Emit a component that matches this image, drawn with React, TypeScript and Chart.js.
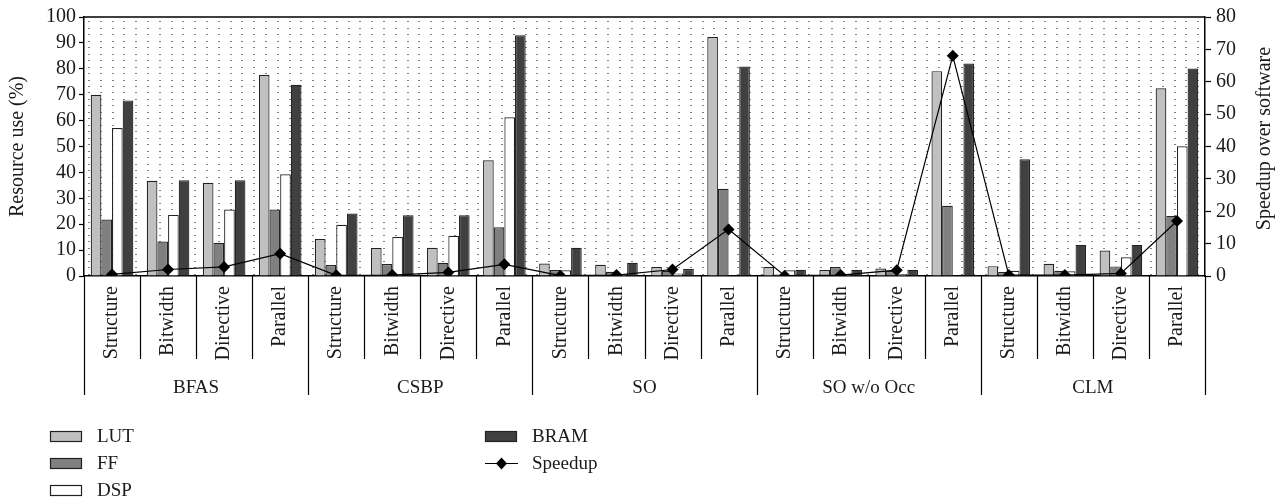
import React, { useEffect, useRef } from "react";
import { Chart, registerables } from "chart.js";

Chart.register(...registerables);

const groups = ["BFAS", "CSBP", "SO", "SO w/o Occ", "CLM"];
const steps = ["Structure", "Bitwidth", "Directive", "Parallel"];
const categories = groups.flatMap(() => steps);

const lut = [70, 36.8, 36, 77.6, 14.3, 10.8, 10.9, 44.7, 4.8, 4.3, 3.5, 92.3, 3.5, 2.3, 2.9, 79.1, 3.8, 4.7, 9.8, 72.5];
const ff = [21.8, 13.3, 12.8, 25.7, 4.2, 4.6, 5.1, 18.8, 2.3, 1.6, 2.0, 33.7, 0.6, 3.5, 2.0, 27.1, 1.5, 2.0, 3.7, 23.2];
const dsp = [57.1, 23.6, 25.7, 39.3, 19.8, 15.1, 15.5, 61.3, 2.2, 0.7, 1.0, null, 2.2, 0.8, 0.8, null, 2.0, 1.8, 7.2, 50.1];
const bram = [67.8, 37, 37, 73.8, 24.1, 23.5, 23.5, 93, 10.9, 5.1, 2.7, 80.9, 2.4, 2.4, 2.4, 82, 45.1, 12, 12, 80.1];
const speedup = [0.5, 2, 2.8, 6.9, 0.2, 0.3, 1.1, 3.6, 0.1, 0.3, 2.0, 14.4, 0.1, 0.3, 1.8, 68, 0.3, 0.3, 0.8, 17];

const rightTitle = "Speedup over software";

const FONT = "'Liberation Serif', 'Times New Roman', serif";
const TEXT = "#1a1a1a";

const decorPlugin = {
  id: "decor",
  beforeDatasetsDraw(chart: any) {
    const { ctx, chartArea: a } = chart;
    ctx.save();
    ctx.fillStyle = "#808080";
    const rowStep = (a.bottom - a.top) / 40;
    for (let x = a.left + 4; x < a.right - 2; x += 11.8) {
      for (let y = a.top + rowStep / 2 + 1; y < a.bottom - 1; y += rowStep) {
        ctx.fillRect(Math.round(x), Math.round(y), 2, 1);
      }
    }
    ctx.restore();
  },
  afterDraw(chart: any) {
    const { ctx, chartArea: a } = chart;
    const xs = chart.scales.x;
    ctx.save();
    // top frame line
    ctx.strokeStyle = "#000";
    ctx.lineWidth = 1.5;
    ctx.beginPath();
    ctx.moveTo(a.left, a.top);
    ctx.lineTo(a.right, a.top);
    ctx.stroke();
    // separators
    const n = categories.length;
    const half = (xs.getPixelForValue(1) - xs.getPixelForValue(0)) / 2;
    ctx.lineWidth = 1.2;
    for (let i = 0; i <= n; i++) {
      const px = i < n ? xs.getPixelForValue(i) - half : xs.getPixelForValue(n - 1) + half;
      const isGroup = i % steps.length === 0;
      ctx.beginPath();
      ctx.moveTo(Math.round(px) + 0.5, a.bottom);
      ctx.lineTo(Math.round(px) + 0.5, a.bottom + (isGroup ? 119 : 83));
      ctx.stroke();
    }
    // group labels
    ctx.fillStyle = TEXT;
    ctx.font = `19px ${FONT}`;
    ctx.textAlign = "center";
    ctx.textBaseline = "middle";
    groups.forEach((g, gi) => {
      const p0 = xs.getPixelForValue(gi * steps.length) - half;
      const p1 = xs.getPixelForValue(gi * steps.length + steps.length - 1) + half;
      ctx.fillText(g, (p0 + p1) / 2, a.bottom + 112);
    });
    // right axis title (reads bottom-to-top as in the reference)
    ctx.save();
    ctx.translate(1265, (a.top + a.bottom) / 2 - 8);
    ctx.rotate(-Math.PI / 2);
    ctx.font = `20px ${FONT}`;
    ctx.fillText(rightTitle, 0, 0);
    ctx.restore();
    // legend
    const ds = chart.data.datasets;
    const items = [
      { i: 0, x: 50, y: 436 },
      { i: 1, x: 50, y: 463 },
      { i: 2, x: 50, y: 490 },
      { i: 3, x: 485, y: 436 },
      { i: 4, x: 485, y: 463 },
    ];
    ctx.textAlign = "left";
    items.forEach(({ i, x, y }) => {
      const d = ds[i];
      if (d.type === "line") {
        ctx.strokeStyle = "#000";
        ctx.lineWidth = 1.2;
        ctx.beginPath();
        ctx.moveTo(x, y + 0.5);
        ctx.lineTo(x + 33, y + 0.5);
        ctx.stroke();
        ctx.fillStyle = "#000";
        ctx.beginPath();
        ctx.moveTo(x + 16.5, y - 5.5);
        ctx.lineTo(x + 22, y + 0.5);
        ctx.lineTo(x + 16.5, y + 6.5);
        ctx.lineTo(x + 11, y + 0.5);
        ctx.closePath();
        ctx.fill();
      } else {
        ctx.fillStyle = d.backgroundColor;
        ctx.fillRect(x, y - 5, 32, 11);
        ctx.strokeStyle = "#222";
        ctx.lineWidth = 1.2;
        ctx.strokeRect(x + 0.5, y - 4.5, 31, 10);
      }
      ctx.fillStyle = TEXT;
      ctx.font = `19px ${FONT}`;
      ctx.fillText(d.label, x + 47, y + 1);
    });
    ctx.restore();
  },
};

export default function App() {
  const ref = useRef<HTMLCanvasElement | null>(null);
  useEffect(() => {
    document.body.style.margin = "0";
    const barBase = { type: "bar" as const, borderColor: "#222", borderWidth: 1.2, yAxisID: "y", order: 1, barPercentage: 1, categoryPercentage: 0.76 };
    const chart = new Chart(ref.current as HTMLCanvasElement, {
      type: "bar",
      data: {
        labels: categories,
        datasets: [
          { ...barBase, label: "LUT", data: lut, backgroundColor: "#c0c0c0" },
          { ...barBase, label: "FF", data: ff, backgroundColor: "#808080" },
          { ...barBase, label: "DSP", data: dsp as any, backgroundColor: "#ffffff" },
          { ...barBase, label: "BRAM", data: bram, backgroundColor: "#404040" },
          {
            type: "line" as const,
            label: "Speedup",
            data: speedup,
            yAxisID: "y2",
            order: 0,
            borderColor: "#000",
            borderWidth: 1.2,
            pointStyle: "rectRot",
            pointRadius: 6,
            pointBackgroundColor: "#000",
            pointBorderColor: "#000",
            pointBorderWidth: 0,
            tension: 0,
          },
        ] as any,
      },
      options: {
        responsive: false,
        animation: false,
        layout: { padding: { top: 13, left: 0, right: 0, bottom: 0 } },
        plugins: { legend: { display: false }, tooltip: { enabled: false } },
        scales: {
          x: {
            offset: true,
            grid: { display: false },
            border: { display: true, color: "#000", width: 1.5 },
            ticks: { autoSkip: false, minRotation: 90, maxRotation: 90, padding: 2, color: TEXT, font: { family: FONT, size: 20 } },
            afterFit: (s: any) => { s.height = 227; },
          },
          y: {
            position: "left",
            min: 0,
            max: 100,
            ticks: { stepSize: 10, autoSkip: false, padding: 3, color: TEXT, font: { family: FONT, size: 20 } },
            grid: { drawOnChartArea: false, drawTicks: true, tickLength: 5, tickColor: "#000", tickWidth: 1.2 },
            border: { display: true, color: "#000", width: 1.5 },
            title: { display: true, text: "Resource use (%)", color: TEXT, font: { family: FONT, size: 20 }, padding: { top: 6, bottom: 0 } },
            afterFit: (s: any) => { s.width = 84; },
          },
          y2: {
            position: "right",
            min: 0,
            max: 80,
            ticks: { stepSize: 10, autoSkip: false, padding: 5, color: TEXT, font: { family: FONT, size: 20 } },
            grid: { drawOnChartArea: false, drawTicks: true, tickLength: 6, tickColor: "#000", tickWidth: 1.2 },
            border: { display: true, color: "#000", width: 1.5 },
            afterFit: (s: any) => { s.width = 78; },
          },
        },
      } as any,
      plugins: [decorPlugin],
    });
    return () => chart.destroy();
  }, []);
  return (
    <div style={{ width: 1283, height: 503, background: "#fff" }}>
      <canvas ref={ref} width={1283} height={503} style={{ display: "block" }} />
    </div>
  );
}
